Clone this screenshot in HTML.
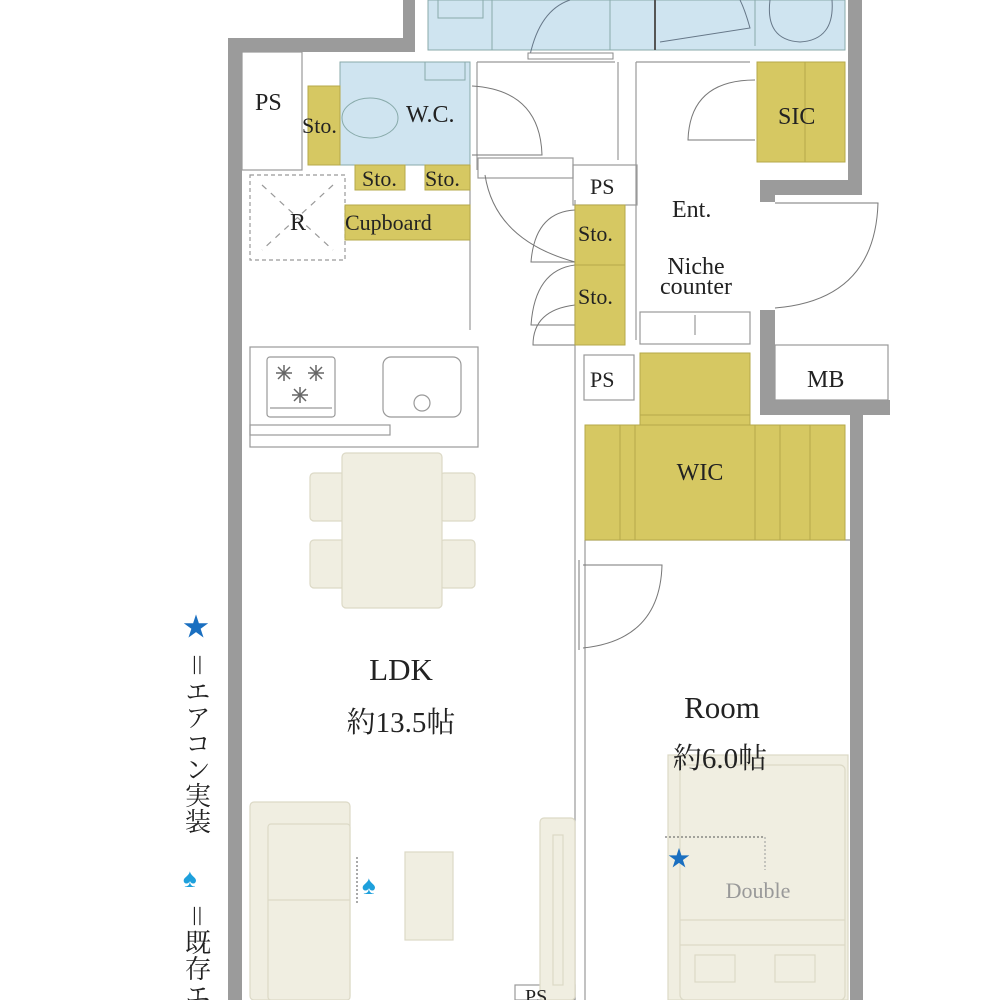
<!DOCTYPE html>
<html><head><meta charset="utf-8"><style>
html,body{margin:0;padding:0;background:#fff;width:1000px;height:1000px;overflow:hidden}
svg{display:block;overflow:hidden}
svg text{font-family:"Liberation Serif","Noto Serif CJK JP",serif;fill:#222}
</style></head><body>
<svg width="1000" height="1000" viewBox="0 0 1000 1000" xmlns="http://www.w3.org/2000/svg">
<!-- blue bath area -->
<rect x="428" y="0" width="417" height="50" fill="#cfe4f0" stroke="#8aa" stroke-width="1"/>
<line x1="492" y1="0" x2="492" y2="50" stroke="#8aa"/>
<line x1="610" y1="0" x2="610" y2="50" stroke="#8aa"/>
<line x1="655" y1="0" x2="655" y2="50" stroke="#555" stroke-width="2"/>
<line x1="755" y1="0" x2="755" y2="46" stroke="#8aa"/>
<path d="M530 55 Q540 10 570 0" fill="none" stroke="#678"/>
<path d="M660 42 L750 28 Q745 10 740 0" fill="none" stroke="#678"/>
<path d="M770 0 Q765 40 800 42 Q835 40 832 0" fill="none" stroke="#678"/>
<rect x="438" y="0" width="45" height="18" fill="none" stroke="#8aa"/>
<rect x="528" y="53" width="85" height="6" fill="#fff" stroke="#888"/>
<!-- walls -->
<g fill="#9b9b9b">
<rect x="228" y="38" width="14" height="962"/>
<rect x="228" y="38" width="187" height="14"/>
<rect x="403" y="0" width="12" height="52"/>
<rect x="848" y="0" width="14" height="195"/>
<rect x="760" y="180" width="102" height="15"/>
<rect x="760" y="180" width="15" height="22"/>
<rect x="760" y="310" width="15" height="105"/>
<rect x="760" y="400" width="130" height="15"/>
<rect x="850" y="400" width="13" height="600"/>
</g>
<!-- interior thin lines -->
<g fill="none" stroke="#999" stroke-width="1.2">
<rect x="242" y="52" width="60" height="118"/>
<rect x="250" y="175" width="95" height="85" stroke-dasharray="4 3"/>
<line x1="262" y1="185" x2="333" y2="250" stroke-dasharray="6 6"/>
<line x1="333" y1="185" x2="262" y2="250" stroke-dasharray="6 6"/>
<rect x="250" y="347" width="228" height="100"/>
<rect x="250" y="425" width="140" height="10"/>
<rect x="267" y="357" width="68" height="60" rx="3"/>
<line x1="270" y1="408" x2="332" y2="408"/>
<rect x="383" y="357" width="78" height="60" rx="8"/>
<circle cx="422" cy="403" r="8"/>
<line x1="477" y1="62" x2="477" y2="170"/>
<line x1="477" y1="62" x2="615" y2="62"/>
<line x1="618" y1="62" x2="618" y2="160"/>
<line x1="636" y1="62" x2="636" y2="340"/>
<line x1="636" y1="62" x2="750" y2="62"/>
<rect x="478" y="158" width="95" height="20"/>
<rect x="573" y="165" width="64" height="40"/>
<line x1="470" y1="165" x2="470" y2="330"/>
<rect x="640" y="312" width="110" height="32"/>
<line x1="695" y1="315" x2="695" y2="335"/>
<rect x="775" y="345" width="113" height="55"/>
<rect x="584" y="355" width="50" height="45"/>
<line x1="575" y1="200" x2="575" y2="1000"/>
<line x1="585" y1="540" x2="585" y2="1000"/>
<line x1="585" y1="540" x2="850" y2="540"/>
<rect x="515" y="985" width="60" height="15"/>
</g>
<!-- burners -->
<g stroke="#666" stroke-width="1.5">
<g transform="translate(284,373)"><line x1="-8" y1="0" x2="8" y2="0"/><line x1="0" y1="-8" x2="0" y2="8"/><line x1="-6" y1="-6" x2="6" y2="6"/><line x1="-6" y1="6" x2="6" y2="-6"/></g>
<g transform="translate(316,373)"><line x1="-8" y1="0" x2="8" y2="0"/><line x1="0" y1="-8" x2="0" y2="8"/><line x1="-6" y1="-6" x2="6" y2="6"/><line x1="-6" y1="6" x2="6" y2="-6"/></g>
<g transform="translate(300,395)"><line x1="-8" y1="0" x2="8" y2="0"/><line x1="0" y1="-8" x2="0" y2="8"/><line x1="-6" y1="-6" x2="6" y2="6"/><line x1="-6" y1="6" x2="6" y2="-6"/></g>
</g>
<!-- doors arcs -->
<g fill="none" stroke="#777" stroke-width="1">
<path d="M472 86 Q540 90 542 155 L472 155"/>
<path d="M755 80 Q690 80 688 140 L755 140"/>
<path d="M775 203 L878 203 Q875 300 775 308"/>
<path d="M485 175 Q495 240 575 262"/>
<path d="M575 210 Q535 212 531 262 L575 262"/>
<path d="M575 265 Q535 270 531 325 L575 325"/>
<path d="M575 305 Q533 310 533 345 L575 345"/>
<path d="M583 565 L662 565 Q660 640 583 648"/>
<line x1="579" y1="560" x2="579" y2="650" stroke="#777"/>
</g>
<!-- WC -->
<rect x="340" y="62" width="130" height="103" fill="#cfe4f0" stroke="#8aa"/>
<rect x="425" y="62" width="40" height="18" fill="none" stroke="#8aa"/>
<ellipse cx="370" cy="118" rx="28" ry="20" fill="none" stroke="#8aa"/>
<!-- yellow -->
<g fill="#d6c862" stroke="#b5a94a" stroke-width="1">
<rect x="308" y="86" width="32" height="79"/>
<rect x="355" y="165" width="50" height="25"/>
<rect x="425" y="165" width="45" height="25"/>
<rect x="345" y="205" width="125" height="35"/>
<rect x="757" y="62" width="88" height="100"/>
<rect x="575" y="205" width="50" height="140"/>
<rect x="640" y="353" width="110" height="72"/>
<rect x="585" y="425" width="260" height="115"/>
</g>
<g stroke="#b5a94a" stroke-width="1">
<line x1="805" y1="62" x2="805" y2="162"/>
<line x1="575" y1="265" x2="625" y2="265"/>
<line x1="640" y1="415" x2="750" y2="415"/>
<line x1="635" y1="425" x2="635" y2="540"/>
<line x1="755" y1="425" x2="755" y2="540"/>
<line x1="810" y1="425" x2="810" y2="540"/>
<line x1="620" y1="425" x2="620" y2="540"/>
<line x1="780" y1="425" x2="780" y2="540"/>
</g>
<!-- furniture -->
<g fill="#f0eee1" stroke="#dcd9c6" stroke-width="1.2">
<rect x="310" y="473" width="35" height="48" rx="4"/>
<rect x="310" y="540" width="35" height="48" rx="4"/>
<rect x="440" y="473" width="35" height="48" rx="4"/>
<rect x="440" y="540" width="35" height="48" rx="4"/>
<rect x="342" y="453" width="100" height="155" rx="4"/>
<rect x="250" y="802" width="100" height="198" rx="4"/>
<rect x="268" y="824" width="82" height="176" rx="3"/>
<line x1="268" y1="900" x2="350" y2="900"/>
<rect x="405" y="852" width="48" height="88"/>
<rect x="540" y="818" width="35" height="182" rx="4"/>
<rect x="553" y="835" width="10" height="150"/>
<rect x="668" y="755" width="180" height="245"/>
<rect x="680" y="765" width="165" height="235" rx="5"/>
<line x1="680" y1="920" x2="845" y2="920"/>
<line x1="680" y1="945" x2="845" y2="945"/>
<rect x="695" y="955" width="40" height="27"/>
<rect x="775" y="955" width="40" height="27"/>
</g>
<line x1="665" y1="837" x2="765" y2="837" stroke="#555" stroke-dasharray="2 2"/>
<line x1="765" y1="837" x2="765" y2="870" stroke="#999" stroke-dasharray="2 2"/>
<line x1="357" y1="857" x2="357" y2="905" stroke="#555" stroke-dasharray="2 2"/>
<!-- labels -->
<g font-size="24">
<text x="255" y="110">PS</text>
<text x="302" y="133" font-size="22">Sto.</text>
<text x="406" y="122">W.C.</text>
<text x="362" y="186" font-size="22">Sto.</text>
<text x="425" y="186" font-size="22">Sto.</text>
<text x="345" y="230" font-size="22">Cupboard</text>
<text x="290" y="230">R</text>
<text x="778" y="124">SIC</text>
<text x="590" y="194" font-size="22">PS</text>
<text x="672" y="217">Ent.</text>
<text x="578" y="241" font-size="22">Sto.</text>
<text x="578" y="304" font-size="22">Sto.</text>
<text x="696" y="274" text-anchor="middle">Niche</text>
<text x="696" y="294" text-anchor="middle">counter</text>
<text x="590" y="387" font-size="22">PS</text>
<text x="807" y="387">MB</text>
<text x="700" y="480" text-anchor="middle">WIC</text>
<text x="401" y="680" font-size="31" text-anchor="middle">LDK</text>
<text x="401" y="732" font-size="29" text-anchor="middle">約13.5帖</text>
<text x="722" y="718" font-size="31" text-anchor="middle">Room</text>
<text x="720" y="768" font-size="29" text-anchor="middle">約6.0帖</text>
<text x="758" y="898" font-size="22" text-anchor="middle" style="fill:#999">Double</text>
<text x="525" y="1003" font-size="20">PS</text>
</g>
<text x="668" y="866" font-size="22" style="fill:#1a6fc0">★</text>
<text x="362" y="894" font-size="26" style="fill:#1ea0dc">♠</text>
<text x="183" y="636" font-size="26" style="fill:#1a6fc0">★</text>
<text x="196" y="652" font-size="26" style="writing-mode:vertical-rl;fill:#222">＝エアコン実装</text>
<text x="183" y="887" font-size="26" style="fill:#1ea0dc">♠</text>
<text x="196" y="903" font-size="26" style="writing-mode:vertical-rl;fill:#222">＝既存エアコン</text>
</svg>
</body></html>
